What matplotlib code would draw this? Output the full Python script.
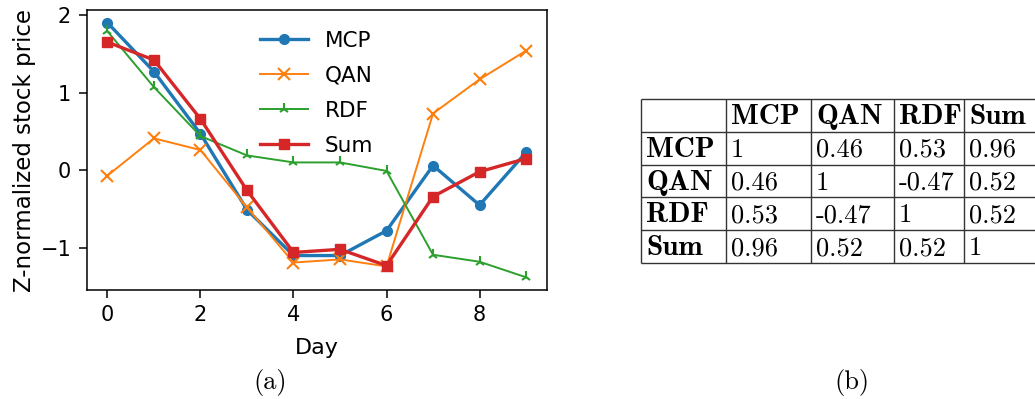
import numpy as np
import matplotlib
matplotlib.use('Agg')
from matplotlib import pyplot as plt

days = np.arange(10)
mcp = [1.90, 1.27, 0.47, -0.51, -1.10, -1.10, -0.78, 0.06, -0.45, 0.23]
qan = [-0.07, 0.41, 0.26, -0.48, -1.19, -1.15, -1.24, 0.73, 1.17, 1.54]
rdf = [1.79, 1.07, 0.44, 0.19, 0.10, 0.10, -0.01, -1.09, -1.18, -1.38]
total = [1.65, 1.42, 0.66, -0.26, -1.06, -1.02, -1.23, -0.34, -0.02, 0.15]

names = ['MCP', 'QAN', 'RDF', 'Sum']
corr = [['1', '0.46', '0.53', '0.96'],
        ['0.46', '1', '-0.47', '0.52'],
        ['0.53', '-0.47', '1', '0.52'],
        ['0.96', '0.52', '0.52', '1']]

W, H = 1035, 399
fig = plt.figure(figsize=(W / 100, H / 100), dpi=100)

# (a) line chart
ax = fig.add_axes([86.5 / W, 1 - 290 / H, 460.5 / W, 280 / H])
ax.plot(days, mcp, marker='o', ms=7, lw=2.4, color='tab:blue', label='MCP')
ax.plot(days, qan, marker='x', ms=8, mew=1.5, lw=1.4, color='tab:orange', label='QAN')
ax.plot(days, rdf, marker='2', ms=8, mew=1.5, lw=1.4, color='tab:green', label='RDF')
ax.plot(days, total, marker='s', ms=7, lw=2.4, color='tab:red', label='Sum')
ax.set_xticks([0, 2, 4, 6, 8])
ax.set_yticks([-1, 0, 1, 2])
ax.set_yticklabels(['\u22121', '0', '1', '2'])
ax.tick_params(labelsize=15, length=6, width=1.1, pad=5)
for s in ax.spines.values():
    s.set_linewidth(1.1)
ax.set_xlabel('Day', fontsize=16, labelpad=9)
ax.set_ylabel('Z-normalized stock price', fontsize=16.5, labelpad=3)
ax.legend(loc='upper center', frameon=False, fontsize=15.5, labelspacing=0.7,
          handlelength=2.2, bbox_to_anchor=(0.5, 0.995))

fig.text(270 / W, 1 - 382 / H, '(a)', family='cmr10', fontsize=19, ha='center', va='center')
fig.text(852 / W, 1 - 382 / H, '(b)', family='cmr10', fontsize=19, ha='center', va='center')

# (b) correlation table
col_w = [85, 85, 83, 70, 85]
row_h = 32.8
tw, th = sum(col_w), row_h * 5
tab = fig.add_axes([641 / W, 1 - 263 / H, tw / W, th / H])
tab.set_xlim(0, tw)
tab.set_ylim(th, 0)
tab.axis('off')
xs = np.concatenate([[0], np.cumsum(col_w)])
ys = np.arange(6) * row_h
lc = '#333333'
tab.vlines(xs, 0, th, color=lc, lw=1.0, clip_on=False)
tab.hlines(ys, 0, tw, color=lc, lw=1.0, clip_on=False)

pad = 5
for j, n in enumerate(names):
    tab.text(xs[j + 1] + pad, row_h * 0.55, n, family='cmb10', fontsize=21, va='center', clip_on=False)
    tab.text(xs[0] + pad, row_h * (j + 1.55), n, family='cmb10', fontsize=21, va='center', clip_on=False)
for i, row in enumerate(corr):
    for j, v in enumerate(row):
        tab.text(xs[j + 1] + pad, row_h * (i + 1.55), v, family='cmr10', fontsize=19, va='center', clip_on=False)

fig.savefig('out.png', dpi=100)
